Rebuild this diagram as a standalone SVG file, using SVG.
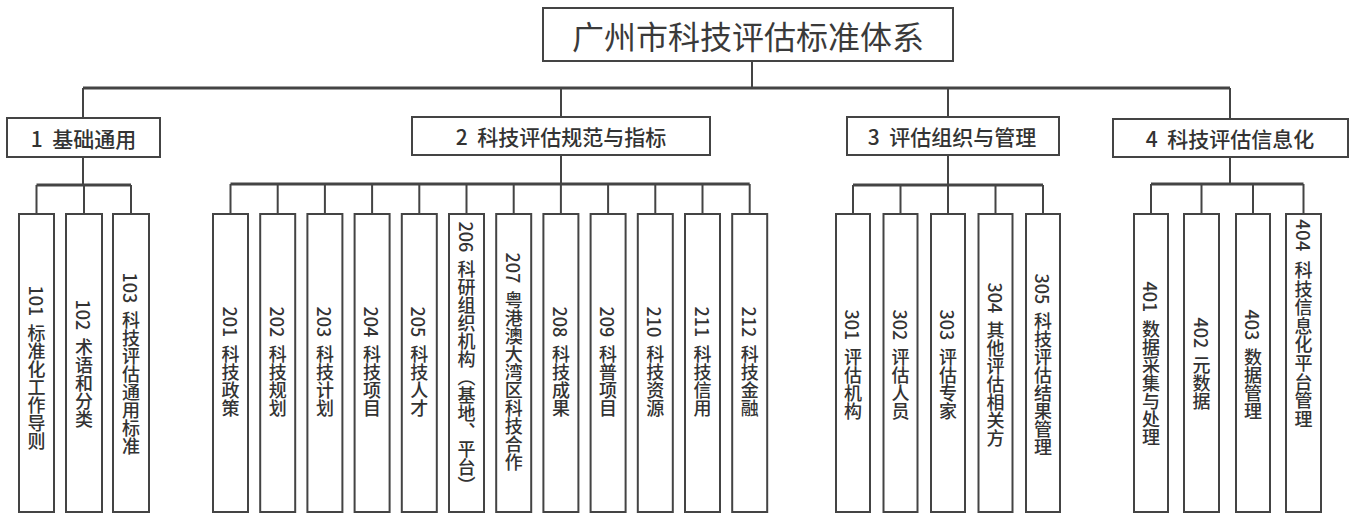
<svg xmlns="http://www.w3.org/2000/svg" width="1350" height="516" viewBox="0 0 1350 516" xml:space="preserve">
<style>
  .box { fill: #ffffff; stroke: #444444; stroke-width: 2; }
  .ln { stroke: #444444; stroke-width: 2; fill: none; }
  .bus { stroke: #444444; stroke-width: 3; fill: none; }
  text { font-family: "Noto Sans CJK SC", "Noto Sans", sans-serif; fill: #333333; white-space: pre; }
  .t0 { font-size: 32px; text-anchor: middle; dominant-baseline: central; fill: #3a3a3a; }
  .t1 { font-size: 21px; text-anchor: middle; dominant-baseline: central; font-weight: 500; }
  .v { font-size: 18px; writing-mode: vertical-rl; text-anchor: middle; font-weight: 500; }
</style>
<rect width="1350" height="516" fill="#ffffff"/>
<g id="connectors">
  <path class="ln" d="M752 61 V88"/>
  <path class="bus" d="M83 88 H1230"/>
  <path class="ln" d="M83 88 V118 M561 88 V117 M948 88 V117 M1230 88 V119"/>
  <path class="ln" d="M83 157 V185"/>
  <path class="bus" d="M36.5 185 H131"/>
  <path class="ln" d="M36.5 185 V214 M84 185 V214 M131 185 V214"/>
  <path class="ln" d="M561 155 V184"/>
  <path class="bus" d="M230.5 184 H749.7"/>
  <path class="ln" d="M230.5 184 V214 M277.7 184 V214 M324.9 184 V214 M372.1 184 V214 M419.3 184 V214 M466.5 184 V214 M513.7 184 V214 M560.9 184 V214 M608.1 184 V214 M655.3 184 V214 M702.5 184 V214 M749.7 184 V214"/>
  <path class="ln" d="M948 155 V185"/>
  <path class="bus" d="M853 185 H1043"/>
  <path class="ln" d="M853 185 V214 M900.5 185 V214 M948 185 V214 M995.5 185 V214 M1043 185 V214"/>
  <path class="ln" d="M1230 157 V184"/>
  <path class="bus" d="M1151 184 H1303.5"/>
  <path class="ln" d="M1151 184 V214 M1201.5 184 V214 M1253 184 V214 M1303.5 184 V214"/>
</g>
<g id="root">
  <rect class="box" x="543" y="8" width="410" height="53"/>
  <text class="t0" x="748" y="35">广州市科技评估标准体系</text>
</g>
<g id="n1">
  <rect class="box" x="7" y="118" width="153" height="39"/>
  <text class="t1" x="83.5" y="137.5">1  基础通用</text>
</g>
<g id="n2">
  <rect class="box" x="412" y="117" width="298" height="38"/>
  <text class="t1" x="561" y="136">2  科技评估规范与指标</text>
</g>
<g id="n3">
  <rect class="box" x="847" y="117" width="212" height="38"/>
  <text class="t1" x="952" y="136">3  评估组织与管理</text>
</g>
<g id="n4">
  <rect class="box" x="1113" y="119" width="235" height="38"/>
  <text class="t1" x="1230" y="138">4  科技评估信息化</text>
</g>
<g id="n101"><rect class="box" x="19" y="214" width="35" height="298"/><text class="v" x="36.5" y="368">101  标准化工作导则</text></g>
<g id="n102"><rect class="box" x="66" y="214" width="36" height="298"/><text class="v" x="84" y="364">102  术语和分类</text></g>
<g id="n103"><rect class="box" x="113" y="214" width="36" height="298"/><text class="v" x="131" y="364">103  科技评估通用标准</text></g>
<g id="n201"><rect class="box" x="213" y="214" width="35" height="298"/><text class="v" x="230.5" y="362">201  科技政策</text></g>
<g id="n202"><rect class="box" x="260.2" y="214" width="35" height="298"/><text class="v" x="277.7" y="362">202  科技规划</text></g>
<g id="n203"><rect class="box" x="307.4" y="214" width="35" height="298"/><text class="v" x="324.9" y="362">203  科技计划</text></g>
<g id="n204"><rect class="box" x="354.6" y="214" width="35" height="298"/><text class="v" x="372.1" y="362">204  科技项目</text></g>
<g id="n205"><rect class="box" x="401.8" y="214" width="35" height="298"/><text class="v" x="419.3" y="362">205  科技人才</text></g>
<g id="n206"><rect class="box" x="449" y="214" width="35" height="298"/><text class="v" x="466.5" y="358">206  科研组织机构（基地、平台）</text></g>
<g id="n207"><rect class="box" x="496.2" y="214" width="35" height="298"/><text class="v" x="513.7" y="362">207  粤港澳大湾区科技合作</text></g>
<g id="n208"><rect class="box" x="543.4" y="214" width="35" height="298"/><text class="v" x="560.9" y="362">208  科技成果</text></g>
<g id="n209"><rect class="box" x="590.6" y="214" width="35" height="298"/><text class="v" x="608.1" y="362">209  科普项目</text></g>
<g id="n210"><rect class="box" x="637.8" y="214" width="35" height="298"/><text class="v" x="655.3" y="362">210  科技资源</text></g>
<g id="n211"><rect class="box" x="685" y="214" width="35" height="298"/><text class="v" x="702.5" y="362">211  科技信用</text></g>
<g id="n212"><rect class="box" x="732.2" y="214" width="35" height="298"/><text class="v" x="749.7" y="362">212  科技金融</text></g>
<g id="n301"><rect class="box" x="836" y="214" width="34" height="298"/><text class="v" x="853" y="365">301  评估机构</text></g>
<g id="n302"><rect class="box" x="883.5" y="214" width="34" height="298"/><text class="v" x="900.5" y="365">302  评估人员</text></g>
<g id="n303"><rect class="box" x="931" y="214" width="34" height="298"/><text class="v" x="948" y="365">303  评估专家</text></g>
<g id="n304"><rect class="box" x="978.5" y="214" width="34" height="298"/><text class="v" x="995.5" y="365">304  其他评估相关方</text></g>
<g id="n305"><rect class="box" x="1026" y="214" width="34" height="298"/><text class="v" x="1043" y="365">305  科技评估结果管理</text></g>
<g id="n401"><rect class="box" x="1134" y="214" width="34" height="298"/><text class="v" x="1151" y="364">401  数据采集与处理</text></g>
<g id="n402"><rect class="box" x="1184" y="214" width="35" height="298"/><text class="v" x="1201.5" y="364">402  元数据</text></g>
<g id="n403"><rect class="box" x="1236" y="214" width="34" height="298"/><text class="v" x="1253" y="365">403  数据管理</text></g>
<g id="n404"><rect class="box" x="1286" y="214" width="35" height="298"/><text class="v" x="1303.5" y="324" letter-spacing="0.6">404  科技信息化平台管理</text></g>
</svg>
